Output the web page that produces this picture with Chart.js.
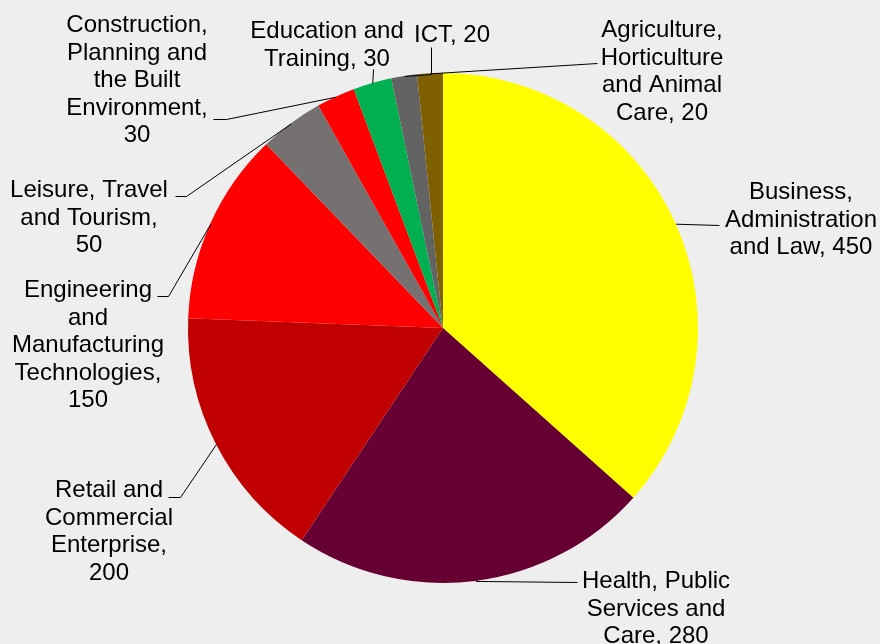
<!DOCTYPE html>
<html>
<head>
<meta charset="utf-8">
<script src="https://cdn.jsdelivr.net/npm/chart.js@4"></script>
<style>
  html, body { margin: 0; padding: 0; background: #eeeeee; }
  #pieChart { display: block; }
</style>
</head>
<body>
<canvas id="pieChart" width="880" height="644"></canvas>
<script>
const categories = [
    "Business, Administration and Law",
    "Health, Public Services and Care",
    "Retail and Commercial Enterprise",
    "Engineering and Manufacturing Technologies",
    "Leisure, Travel and Tourism",
    "Construction, Planning and the Built Environment",
    "Education and Training",
    "ICT",
    "Agriculture, Horticulture and Animal Care"
];
const values = [450, 280, 200, 150, 50, 30, 30, 20, 20];
const colors = [
    "#ffff00", "#660033", "#c00000", "#ff0000", "#767171",
    "#ff0000", "#00b050", "#636363", "#7f6000"
];

// label layout: words per line, text centre x, first baseline y, leader bend points
const labelLayout = [
    { words: [1, 1, 3], x: 801, y: 199, path: [[719, 225]] },
    { words: [2, 2, 2], x: 656, y: 588, path: [[577, 582]] },
    { words: [2, 1, 1, 1], x: 109, y: 497, path: [[180, 497], [168, 497]] },
    { words: [1, 1, 1, 1, 1], x: 88, y: 297, path: [[168, 296], [157, 296]] },
    { words: [2, 2, 1], x: 89, y: 197, path: [[186, 196], [175, 196]] },
    { words: [1, 2, 2, 1, 1], x: 137, y: 32, path: [[226, 119], [213, 119]] },
    { words: [2, 2], x: 327, y: 38, path: [[373, 69]] },
    { words: [2], x: 452, y: 42, path: [[431, 74], [431, 47]] },
    { words: [1, 1, 2, 2], x: 662, y: 37, path: [[597, 63]] }
];

function labelLines(i) {
    const words = (categories[i] + ", " + values[i]).split(" ");
    const lines = [];
    let k = 0;
    labelLayout[i].words.forEach(n => {
        lines.push(words.slice(k, k + n).join(" "));
        k += n;
    });
    return lines;
}

const leaderLabels = {
    id: "leaderLabels",
    afterDatasetsDraw(chart) {
        const ctx = chart.ctx;
        const arcs = chart.getDatasetMeta(0).data;
        ctx.save();
        arcs.forEach((arc, i) => {
            const lay = labelLayout[i];
            const mid = (arc.startAngle + arc.endAngle) / 2;
            const sx = arc.x + Math.cos(mid) * arc.outerRadius;
            const sy = arc.y + Math.sin(mid) * arc.outerRadius;
            ctx.beginPath();
            ctx.moveTo(sx + 0.5, sy + 0.5);
            lay.path.forEach(p => ctx.lineTo(p[0] + 0.5, p[1] + 0.5));
            ctx.strokeStyle = "#000000";
            ctx.lineWidth = 1;
            ctx.stroke();

            ctx.fillStyle = "#000000";
            ctx.font = "24px 'Liberation Sans', Arial, sans-serif";
            ctx.textAlign = "center";
            ctx.textBaseline = "alphabetic";
            labelLines(i).forEach((line, j) => {
                ctx.fillText(line, lay.x, lay.y + j * 27.5);
            });
        });
        ctx.restore();
    }
};

new Chart(document.getElementById("pieChart").getContext("2d"), {
    type: "pie",
    data: {
        labels: categories,
        datasets: [{
            data: values,
            backgroundColor: colors,
            borderWidth: 0
        }]
    },
    options: {
        responsive: false,
        animation: false,
        layout: {
            padding: { left: 188, right: 182, top: 73, bottom: 61 }
        },
        plugins: {
            legend: { display: false },
            tooltip: { enabled: false }
        }
    },
    plugins: [leaderLabels]
});
</script>
</body>
</html>
